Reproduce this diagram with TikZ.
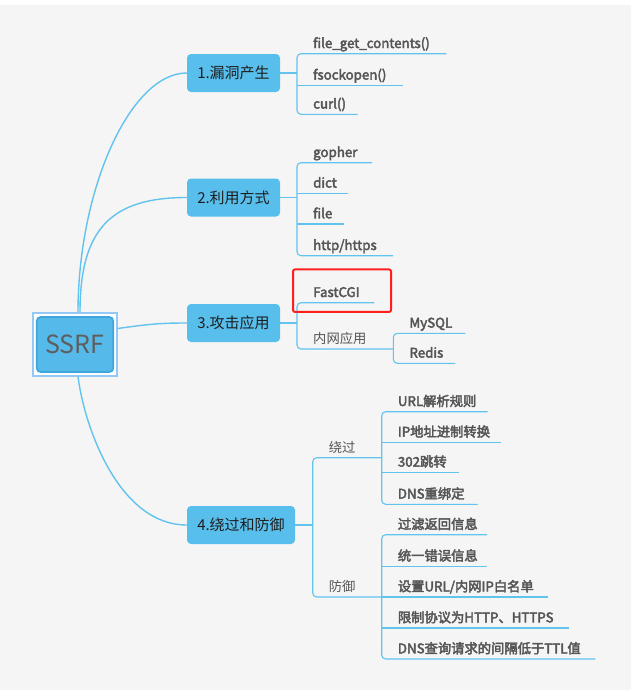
\documentclass[tikz,border=0pt]{standalone}
\usepackage{fontspec}
\setmainfont{Noto Sans CJK SC}
\newfontfamily\leafface{Noto Sans CJK SC}[FakeBold=3]
\definecolor{panel}{HTML}{F5F5F5}
\definecolor{topicblue}{HTML}{58BEEC}
\definecolor{rootfill}{HTML}{55B9E9}
\definecolor{rootedge}{HTML}{3FA6DB}
\definecolor{frameblue}{HTML}{94C9F6}
\definecolor{linkblue}{HTML}{62C3EE}
\definecolor{leaftext}{HTML}{555555}
\definecolor{topictext}{HTML}{1E1E1E}
\definecolor{roottext}{HTML}{5E5E5E}
\definecolor{alertred}{HTML}{FF1F1F}

\begin{document}
\begin{tikzpicture}[x=1pt,y=-1pt,
  topic/.style={fill=topicblue, rounded corners=4pt, inner sep=0pt,
    minimum height=38pt, text=topictext, font=\fontsize{15}{18}\selectfont},
  leaf/.style={anchor=south west, inner xsep=0pt, inner ysep=5.5pt,
    text width=#1, align=left, text height=10pt, text depth=0pt,
    text=leaftext, font=\leafface\fontsize{13.3}{16}\selectfont,
    execute at begin node=\hspace*{16pt}},
  mid/.style={leaf=#1, font=\rmfamily\fontsize{13.3}{16}\selectfont},
  branch/.style={draw=linkblue, line width=1.4pt},
  twig/.style={draw=linkblue, line width=1.1pt, rounded corners=4pt}
]
% canvas
\fill[white] (0,0) rectangle (643,699);
\fill[panel] (0,5) rectangle (631,690);
\useasboundingbox (0,0) rectangle (643,699);

% central topic
\node[draw=frameblue, line width=1.2pt, fill=white, inner sep=0pt,
  minimum width=84pt, minimum height=63pt] (rootframe) at (75,344.5) {};
\node[fill=rootfill, draw=rootedge, line width=1.8pt, rounded corners=4pt,
  inner sep=0pt, minimum width=76.5pt, minimum height=55pt,
  text=roottext, font=\fontsize{25}{30}\selectfont] (root) at (75,344.5) {SSRF};

% main topics
\node[topic, minimum width=93pt] (t1) at (233.5,73) {1.漏洞产生};
\node[topic, minimum width=93pt] (t2) at (233.5,197.5) {2.利用方式};
\node[topic, minimum width=93pt] (t3) at (233.5,323) {3.攻击应用};
\node[topic, minimum width=108pt] (t4) at (241,525) {4.绕过和防御};

% curved links from the centre
\draw[branch] ([xshift=3pt]rootframe.north) .. controls (78,190) and (130,73) .. (t1.west);
\draw[branch] ([xshift=5pt]rootframe.north) .. controls (80,230) and (110,197.5) .. (t2.west);
\draw[branch] ([yshift=16pt]rootframe.east) .. controls (150,324) and (160,323) .. (t3.west);
\draw[branch] ([xshift=3pt]rootframe.south) .. controls (85,430) and (120,525) .. (t4.west);

% 1. sources
\node[leaf=149pt]   (a1) at (297,53.7)  {file\_get\_contents()};
\node[leaf=105.7pt] (a2) at (297,85.3)  {fsockopen()};
\node[leaf=60.3pt]  (a3) at (297,114.3) {curl()};
\draw[twig] (t1.east) -- (t1.east -| a1.south west);
\draw[twig] (a1.south east) -- (a1.south west) -- (a3.south west) -- (a3.south east);
\draw[twig] (a2.south west) -- (a2.south east);

% 2. protocols
\node[leaf=74.7pt] (b1) at (297,162.7) {gopher};
\node[leaf=50.7pt] (b2) at (297,193.3) {dict};
\node[leaf=47pt]   (b3) at (297,224)   {file};
\node[leaf=95.7pt] (b4) at (297,255.7) {http/https};
\draw[twig] (t2.east) -- (t2.east -| b1.south west);
\draw[twig] (b1.south east) -- (b1.south west) -- (b4.south west) -- (b4.south east);
\draw[twig] (b2.south west) -- (b2.south east);
\draw[twig] (b3.south west) -- (b3.south east);

% 3. targets
\node[leaf=77pt]  (c1) at (297,302.7) {FastCGI};
\node[mid=96.3pt] (c2) at (297,349)   {内网应用};
\node[leaf=71.7pt] (d1) at (393.3,333.3) {MySQL};
\node[leaf=61.7pt] (d2) at (393.3,363.3) {Redis};
\draw[twig] (t3.east) -- (t3.east -| c1.south west);
\draw[twig] (c1.south east) -- (c1.south west) -- (c2.south west) -- (c2.south east);
\draw[twig] (d1.south east) -- (d1.south west) -- (d2.south west) -- (d2.south east);
\node[draw=alertred, line width=2pt, rounded corners=2pt, inner sep=0pt,
  minimum width=98pt, minimum height=42.5pt] (hl) at (342,290.7) {};

% 4. bypass and defence
\node[mid=69pt] (e1) at (312.7,457.7) {绕过};
\node[mid=69pt] (e2) at (312.7,597)   {防御};
\draw[twig] (t4.east) -- (t4.east -| e1.south west);
\draw[twig] (e1.south east) -- (e1.south west) -- (e2.south west) -- (e2.south east);

\node[leaf=105.6pt] (f1) at (381.7,411.7) {URL解析规则};
\node[leaf=119pt]   (f2) at (381.7,442.3) {IP地址进制转换};
\node[leaf=76.6pt]  (f3) at (381.7,472.3) {302跳转};
\node[leaf=95.6pt]  (f4) at (381.7,504.3) {DNS重绑定};
\draw[twig] (f1.south east) -- (f1.south west) -- (f4.south west) -- (f4.south east);
\draw[twig] (f2.south west) -- (f2.south east);
\draw[twig] (f3.south west) -- (f3.south east);

\node[leaf=105pt]   (g1) at (381.7,534.7) {过滤返回信息};
\node[leaf=105pt]   (g2) at (381.7,566.3) {统一错误信息};
\node[leaf=165.6pt] (g3) at (381.7,597)   {设置URL/内网IP白名单};
\node[leaf=187pt]   (g4) at (381.7,628)   {限制协议为HTTP、HTTPS};
\node[leaf=213.3pt] (g5) at (381.7,659)   {DNS查询请求的间隔低于TTL值};
\draw[twig] (g1.south east) -- (g1.south west) -- (g5.south west) -- (g5.south east);
\draw[twig] (g2.south west) -- (g2.south east);
\draw[twig] (g3.south west) -- (g3.south east);
\draw[twig] (g4.south west) -- (g4.south east);
\end{tikzpicture}
\end{document}
